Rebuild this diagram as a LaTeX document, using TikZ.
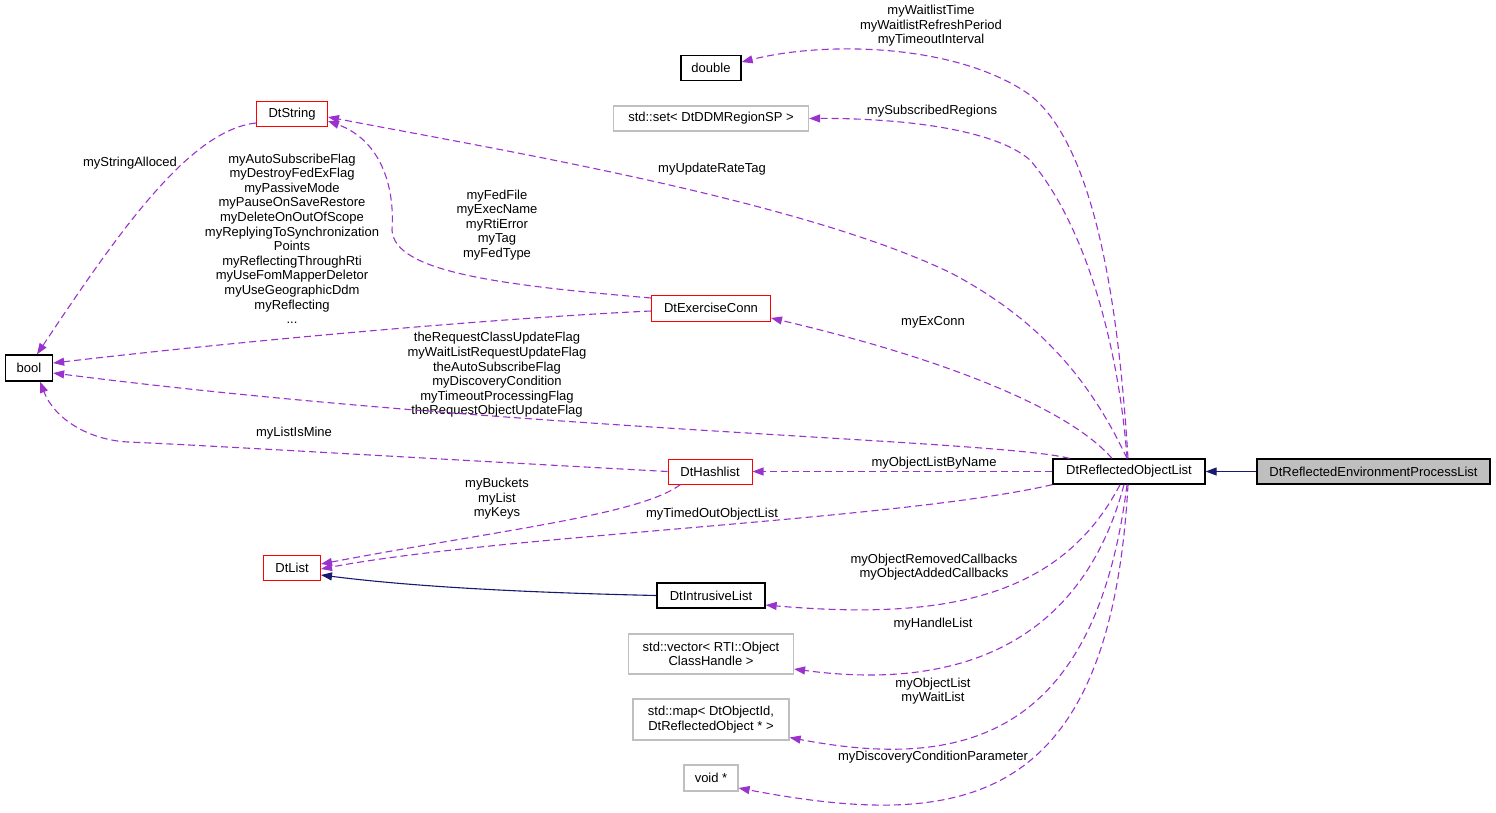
\documentclass[tikz,border=0pt]{standalone}
\usepackage{fontspec}
\setmainfont{Liberation Sans}
\usetikzlibrary{arrows.meta}
\definecolor{edgep}{HTML}{9A32CD}
\definecolor{navyc}{HTML}{191970}
\definecolor{greyb}{HTML}{BFBFBF}
\begin{document}
\begin{tikzpicture}[x=1pt,y=-1pt,
  font=\fontsize{13}{14.6}\selectfont,
  clsbox/.style={draw, line width=1pt, inner sep=0pt, align=center},
  blkbox/.style={clsbox, draw=black, line width=1.3pt},
  redbox/.style={clsbox, draw=red},
  greybox/.style={clsbox, draw=greyb, line width=1.2pt},
  lbl/.style={inner sep=0pt, align=center},
  useedge/.style={draw=edgep, line width=1.1pt, dash pattern=on 7pt off 4pt, -{Triangle[length=11pt,width=8pt]}},
  inhedge/.style={draw=navyc, line width=1.1pt, -{Triangle[length=11pt,width=8pt]}}]
\useasboundingbox (0,0) rectangle (1496,812);

% nodes
\node[blkbox, minimum width=60pt, minimum height=25pt] (dbl) at (711,68) {double};
\node[greybox, minimum width=195pt, minimum height=25pt] (set) at (711,118.5) {std::set< DtDDMRegionSP >};
\node[redbox, minimum width=71pt, minimum height=25pt] (str) at (292,114) {DtString};
\node[redbox, minimum width=119pt, minimum height=26pt] (exc) at (711,308) {DtExerciseConn};
\node[blkbox, minimum width=47pt, minimum height=26pt] (bool) at (29,368) {bool};
\node[redbox, minimum width=84pt, minimum height=25pt] (hash) at (710,471.5) {DtHashlist};
\node[blkbox, minimum width=152pt, minimum height=25pt] (rol) at (1129,471.5) {DtReflectedObjectList};
\node[blkbox, fill=greyb, minimum width=233pt, minimum height=25pt] (env) at (1373.5,471.5) {DtReflectedEnvironmentProcessList};
\node[redbox, minimum width=57pt, minimum height=25pt] (list) at (292,568) {DtList};
\node[blkbox, minimum width=108pt, minimum height=25pt] (intr) at (711,595.5) {DtIntrusiveList};
\node[greybox, minimum width=165pt, minimum height=40pt] (vec) at (711,654) {std::vector< RTI::Object\\ClassHandle >};
\node[greybox, minimum width=156pt, minimum height=41pt] (map) at (711,719.5) {std::map< DtObjectId,\\DtReflectedObject * >};
\node[greybox, minimum width=54pt, minimum height=26pt] (void) at (711,778) {void *};

% labels
\node[lbl] (l1) at (931,26) {myWaitlistTime\\myWaitlistRefreshPeriod\\myTimeoutInterval};
\node[lbl] (l2) at (932,110.7) {mySubscribedRegions};
\node[lbl] (l3) at (712,169) {myUpdateRateTag};
\node[lbl] (l4) at (933,322.7) {myExConn};
\node[lbl] (l5) at (130,163) {myStringAlloced};
\node[lbl] (l6) at (292,238.7) {myAutoSubscribeFlag\\myDestroyFedExFlag\\myPassiveMode\\myPauseOnSaveRestore\\myDeleteOnOutOfScope\\myReplyingToSynchronization\\Points\\myReflectingThroughRti\\myUseFomMapperDeletor\\myUseGeographicDdm\\myReflecting\\...};
\node[lbl] (l7) at (497,225) {myFedFile\\myExecName\\myRtiError\\myTag\\myFedType};
\node[lbl] (l8) at (497,375) {theRequestClassUpdateFlag\\myWaitListRequestUpdateFlag\\theAutoSubscribeFlag\\myDiscoveryCondition\\myTimeoutProcessingFlag\\theRequestObjectUpdateFlag};
\node[lbl] (l9) at (294,433) {myListIsMine};
\node[lbl] (l10) at (934,463) {myObjectListByName};
\node[lbl] (l11) at (497,499) {myBuckets\\myList\\myKeys};
\node[lbl] (l12) at (712,514) {myTimedOutObjectList};
\node[lbl] (l13) at (934,567) {myObjectRemovedCallbacks\\myObjectAddedCallbacks};
\node[lbl] (l14) at (933,624) {myHandleList};
\node[lbl] (l15) at (933,691) {myObjectList\\myWaitList};
\node[lbl] (l16) at (933,757) {myDiscoveryConditionParameter};

% edges
\draw[useedge] ([xshift=-1pt]rol.north) .. controls (1120,330) and (1100,150) .. (1030,95)
   .. controls (960,45) and (830,40) .. ([yshift=6pt]dbl.east);
\draw[useedge] ([xshift=-2pt]rol.north) .. controls (1120,360) and (1090,230) .. (1030,160)
   .. controls (990,125) and (880,118) .. (set.east);
\draw[useedge] ([xshift=-2pt]rol.north) .. controls (1090,380) and (1040,320) .. (951,273)
   .. controls (800,200) and (500,150) .. ([yshift=-3pt]str.east);
\draw[useedge] ([xshift=-17pt]rol.north) .. controls (1070,410) and (950,360) .. ([yshift=-10pt]exc.east);
\draw[useedge] ([xshift=17pt]rol.north west) .. controls (1000,440) and (500,430) .. ([yshift=-5pt]bool.east);
\draw[useedge] ([yshift=-3pt]exc.west) .. controls (500,318) and (250,340) .. ([yshift=5pt]bool.east);
\draw[useedge] ([yshift=10pt]exc.west) .. controls (500,285) and (394,272) .. (392,230)
   .. controls (395,185) and (380,140) .. ([yshift=-7pt]str.east);
\draw[useedge] ([yshift=-9pt]str.west) .. controls (190,130) and (120,230) .. ([xshift=8pt]bool.north);
\draw[useedge] (hash.west) .. controls (400,457) and (200,445) .. (128,442)
   .. controls (90,440) and (55,420) .. ([xshift=11pt]bool.south);
\draw[useedge] ([xshift=13pt]hash.south west) .. controls (640,515) and (500,530) .. ([yshift=4pt]list.east);
\draw[useedge] (rol.south west) .. controls (900,520) and (500,535) .. ([yshift=-1pt]list.east);
\draw[inhedge] (intr.west) .. controls (500,592) and (400,585) .. ([yshift=-7pt]list.east);
\draw[useedge] (rol.west) -- (hash.east);
\draw[inhedge] (env.west) -- (rol.east);
\draw[useedge] ([xshift=-9pt]rol.south) .. controls (1060,600) and (940,620) .. ([yshift=-9.5pt]intr.east);
\draw[useedge] ([xshift=-5pt]rol.south) .. controls (1080,650) and (950,690) .. ([yshift=-15pt]vec.east);
\draw[useedge] ([xshift=-2pt]rol.south) .. controls (1095,740) and (960,770) .. ([yshift=-18pt]map.east);
\draw[useedge] ([xshift=-1pt]rol.south) .. controls (1110,810) and (960,830) .. ([yshift=-10pt]void.east);
\end{tikzpicture}
\end{document}
